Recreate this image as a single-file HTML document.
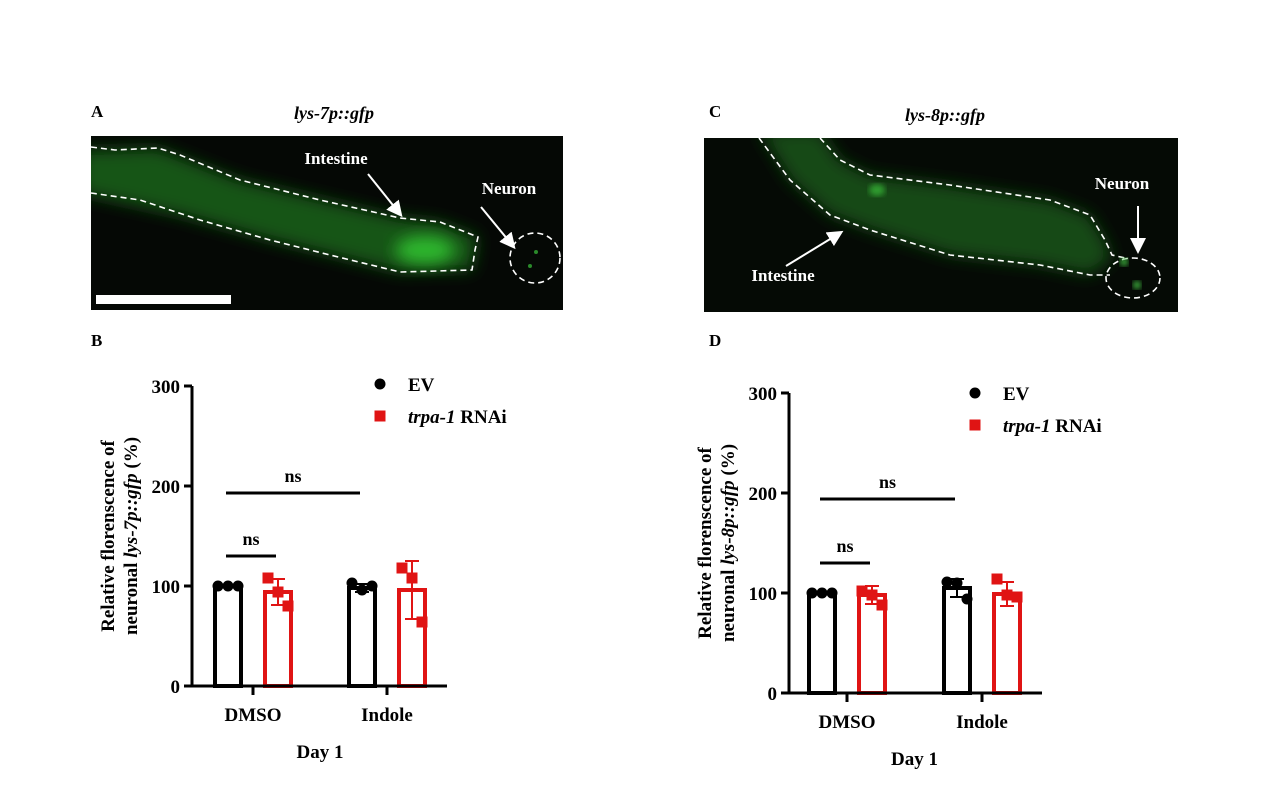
<!DOCTYPE html>
<html><head><meta charset="utf-8"><style>
body{margin:0;background:#fff}
svg{display:block;font-family:"Liberation Serif",serif;font-weight:bold}
</style></head><body>
<svg id="fig" width="1269" height="785" viewBox="0 0 1269 785">
<defs>
<filter id="blur" x="-20%" y="-50%" width="140%" height="200%"><feGaussianBlur stdDeviation="8"/></filter>
<filter id="blur2"><feGaussianBlur stdDeviation="3"/></filter>
<clipPath id="clipA"><rect x="91" y="136" width="472" height="174"/></clipPath>
<clipPath id="clipC"><rect x="704" y="138" width="474" height="174"/></clipPath>
<marker id="ah" markerWidth="8" markerHeight="8" refX="6" refY="4" orient="auto"><path d="M0,0 L8,4 L0,8 z" fill="#fff"/></marker>
</defs>
<!-- Panel A image -->
<g>
<text x="91" y="117" font-size="17">A</text>
<text x="334" y="119" font-size="18" font-style="italic" text-anchor="middle">lys-7p::gfp</text>
<rect x="91" y="136" width="472" height="174" fill="#050805"/>
<g clip-path="url(#clipA)">
<path d="M80,150 L158,148 L240,180 L400,218 L440,222 L478,237 L472,270 L400,272 L270,240 L180,215 L80,193 Z" fill="#145514" filter="url(#blur)"/>
<ellipse cx="425" cy="250" rx="30" ry="14" fill="#2fb82f" filter="url(#blur)"/>
</g>
<path d="M91,147 L115,150 L158,148 L180,155 L240,180 L320,200 L400,218 L440,222 L478,237 L475,250 L472,270 L400,272 L330,255 L270,240 L200,220 L140,200 L91,193" fill="none" stroke="#fff" stroke-width="1.6" stroke-dasharray="6,4"/>
<circle cx="535" cy="258" r="25" fill="none" stroke="#fff" stroke-width="1.6" stroke-dasharray="6,4"/>
<circle cx="536" cy="252" r="2" fill="#2a8a2a"/><circle cx="530" cy="266" r="2" fill="#2a8a2a"/>
<text x="336" y="164" font-size="17" fill="#fff" text-anchor="middle">Intestine</text>
<line x1="368" y1="174" x2="400" y2="214" stroke="#fff" stroke-width="2" marker-end="url(#ah)"/>
<text x="509" y="194" font-size="17" fill="#fff" text-anchor="middle">Neuron</text>
<line x1="481" y1="207" x2="513" y2="246" stroke="#fff" stroke-width="2" marker-end="url(#ah)"/>
<rect x="96" y="295" width="135" height="9" fill="#fff"/>
</g>
<!-- Panel C image -->
<g>
<text x="709" y="117" font-size="17">C</text>
<text x="945" y="121" font-size="18" font-style="italic" text-anchor="middle">lys-8p::gfp</text>
<rect x="704" y="138" width="474" height="174" fill="#050a05"/>
<g clip-path="url(#clipC)">
<path d="M759,130 L820,130 L840,160 L870,175 L950,185 L1050,200 L1090,215 L1105,240 L1112,258 L1090,275 L1040,265 L950,255 L870,230 L830,215 L790,180 Z" fill="#134a13" filter="url(#blur)"/>
<ellipse cx="877" cy="190" rx="8" ry="6" fill="#2f9a2f" filter="url(#blur2)"/>
</g>
<path d="M820,138 L840,160 L870,175 L950,185 L1050,200 L1090,215 L1105,240 L1112,255 L1125,258 M759,138 L790,180 L830,215 L870,230 L950,255 L1040,265 L1090,275 L1110,275" fill="none" stroke="#fff" stroke-width="1.6" stroke-dasharray="6,4"/>
<ellipse cx="1133" cy="278" rx="27" ry="20" fill="none" stroke="#fff" stroke-width="1.6" stroke-dasharray="6,4"/>
<circle cx="1124" cy="262" r="4" fill="#3fb83f" filter="url(#blur2)"/><circle cx="1137" cy="285" r="4" fill="#3fb83f" filter="url(#blur2)"/>
<text x="783" y="281" font-size="17" fill="#fff" text-anchor="middle">Intestine</text>
<line x1="786" y1="266" x2="840" y2="233" stroke="#fff" stroke-width="2" marker-end="url(#ah)"/>
<text x="1122" y="189" font-size="17" fill="#fff" text-anchor="middle">Neuron</text>
<line x1="1138" y1="206" x2="1138" y2="250" stroke="#fff" stroke-width="2" marker-end="url(#ah)"/>
</g>
<text x="91" y="346" font-size="17">B</text>
<text x="709" y="346" font-size="17">D</text>
<g id="chartB"></g>
<g id="chartD"></g>
</svg>
<script>
var categories = ["DMSO", "Indole"];
var seriesNames = ["EV", "trpa-1 RNAi"];
var yTicks = [0, 100, 200, 300];
var bEvMeans = [100, 98];
var bEvErr = [1, 4];
var bEvPoints = [[100, 100, 100], [103, 96, 100]];
var bRnaiMeans = [94, 96];
var bRnaiErr = [13, 29];
var bRnaiPoints = [[108, 94, 80], [118, 108, 64]];
var bSig = [[0, 0, 0, 1, 130], [0, 0, 1, 0, 193]];
var dEvMeans = [100, 105];
var dEvErr = [1, 9];
var dEvPoints = [[100, 100, 100], [111, 110, 94]];
var dRnaiMeans = [98, 99];
var dRnaiErr = [9, 12];
var dRnaiPoints = [[102, 98, 88], [114, 98, 96]];
var dSig = [[0, 0, 0, 1, 130], [0, 0, 1, 0, 194]];

var NS = "http://www.w3.org/2000/svg";
function mk(parent, tag, attrs, text) {
  var e = document.createElementNS(NS, tag);
  for (var k in attrs) e.setAttribute(k, attrs[k]);
  if (text !== undefined) e.textContent = text;
  parent.appendChild(e);
  return e;
}
function drawChart(gid, o, evM, evE, evP, rM, rE, rP, sig, geneLabel) {
  var g = document.getElementById(gid);
  var y = function (v) { return o.y0 - (v / 300) * (o.y0 - o.y300); };
  var cx = function (i) { return o.t[i]; };
  var bw = 30, off = 25;
  var x0 = o.ax;
  var groups = [[evM, evE, evP, "#000", -off, "ev"], [rM, rE, rP, "#e01414", off, "rnai"]];
  groups.forEach(function (s) {
    categories.forEach(function (c, i) {
      var xc = cx(i) + s[4];
      var bar = mk(g, "rect", {x: xc - bw / 2 + 2, y: y(s[0][i]), width: bw - 4, height: o.y0 - y(s[0][i]), fill: "#fff", stroke: s[3], "stroke-width": 4});
      
      
      var eb = mk(g, "path", {d: "M" + xc + "," + y(s[0][i] + s[1][i]) + "V" + y(s[0][i] - s[1][i]) + "M" + (xc - 7) + "," + y(s[0][i] + s[1][i]) + "h14M" + (xc - 7) + "," + y(s[0][i] - s[1][i]) + "h14", stroke: s[3], "stroke-width": 2, fill: "none"});
      
      
      s[2][i].forEach(function (v, j) {
        var px = xc + (j - 1) * 10;
        var pt = s[5] === "ev" ? mk(g, "circle", {cx: px, cy: y(v), r: 5.5, fill: "#000"}) : mk(g, "rect", {x: px - 5.5, y: y(v) - 5.5, width: 11, height: 11, fill: "#e01414"});
        
        
      });
    });
  });
  var ya = mk(g, "line", {x1: x0, y1: y(300), x2: x0, y2: o.y0 + 1.5, stroke: "#000", "stroke-width": 3});
  
  
  var xa = mk(g, "line", {x1: x0 - 1.5, y1: o.y0, x2: o.xe, y2: o.y0, stroke: "#000", "stroke-width": 3});
  
  
  yTicks.forEach(function (v) {
    mk(g, "line", {x1: x0 - 8, y1: y(v), x2: x0, y2: y(v), stroke: "#000", "stroke-width": 3});
    var tl = mk(g, "text", {x: x0 - 12, y: y(v) + 7, "font-size": 19, "text-anchor": "end"}, String(v));
    
    
  });
  categories.forEach(function (c, i) {
    mk(g, "line", {x1: cx(i), y1: o.y0, x2: cx(i), y2: o.y0 + 9, stroke: "#000", "stroke-width": 3});
    var xl = mk(g, "text", {x: cx(i), y: o.y0 + 35, "font-size": 19, "text-anchor": "middle"}, c);
    
    
  });
  var xt = mk(g, "text", {x: (cx(0) + cx(1)) / 2, y: o.y0 + 72, "font-size": 19, "text-anchor": "middle"}, "Day 1");
  
  
  var yt = mk(g, "text", {transform: "translate(" + (o.ax - 78) + "," + ((o.y0 + y(300)) / 2) + ") rotate(-90)", "font-size": 19, "text-anchor": "middle"});
  
  
  mk(yt, "tspan", {x: 0, dy: 0}, "Relative florenscence of");
  mk(yt, "tspan", {x: 0, dy: 23}, "neuronal ");
  mk(yt, "tspan", {"font-style": "italic"}, geneLabel);
  mk(yt, "tspan", {}, " (%)");
  sig.forEach(function (s) {
    var xa1 = cx(s[0]) + (s[1] ? off : -off) - 2;
    var xb1 = cx(s[2]) + (s[3] ? off : -off) - 2;
    var sl = mk(g, "line", {x1: xa1, y1: y(s[4]), x2: xb1, y2: y(s[4]), stroke: "#000", "stroke-width": 3});
    
    
    var st = mk(g, "text", {x: (xa1 + xb1) / 2, y: y(s[4]) - 11, "font-size": 18, "text-anchor": "middle"}, "ns");
    
    
  });
  var l1 = mk(g, "circle", {cx: o.lx, cy: o.ly, r: 5.5, fill: "#000"});
  
  
  var lt1 = mk(g, "text", {x: o.lx + 28, y: o.ly + 7, "font-size": 19}, seriesNames[0]);
  
  
  var l2 = mk(g, "rect", {x: o.lx - 5.5, y: o.ly + 32 - 5.5, width: 11, height: 11, fill: "#e01414"});
  
  
  var lt2 = mk(g, "text", {x: o.lx + 28, y: o.ly + 39, "font-size": 19});
  
  
  mk(lt2, "tspan", {"font-style": "italic"}, "trpa-1");
  mk(lt2, "tspan", {}, " RNAi");
}
drawChart("chartB", {ax: 192, xe: 447, y0: 686, y300: 386, t: [253, 387], lx: 380, ly: 384}, bEvMeans, bEvErr, bEvPoints, bRnaiMeans, bRnaiErr, bRnaiPoints, bSig, "lys-7p::gfp");
drawChart("chartD", {ax: 789, xe: 1042, y0: 693, y300: 393, t: [847, 982], lx: 975, ly: 393}, dEvMeans, dEvErr, dEvPoints, dRnaiMeans, dRnaiErr, dRnaiPoints, dSig, "lys-8p::gfp");
</script>
</body></html>
